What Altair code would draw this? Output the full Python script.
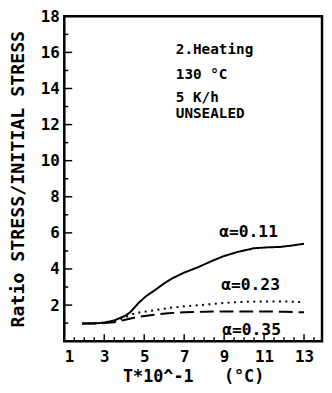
import altair as alt
import pandas as pd

# ---- data ----
series_names = ["α=0.11", "α=0.23", "α=0.35"]

x_a011 = [1.9, 2.5, 3.0, 3.5, 4.0, 4.3, 4.7, 5.1, 5.5, 6.0, 6.4, 7.0, 7.7, 8.4, 9.0, 9.7, 10.5, 11.2, 11.8, 12.4, 13.0]
y_a011 = [0.98, 0.98, 1.03, 1.15, 1.38, 1.6, 2.1, 2.5, 2.8, 3.2, 3.48, 3.8, 4.1, 4.45, 4.72, 4.95, 5.15, 5.2, 5.22, 5.3, 5.4]

x_a023 = [1.9, 3.0, 3.5, 4.0, 4.4, 4.8, 5.5, 6.3, 7.0, 7.7, 8.5, 9.0, 10.0, 11.0, 12.0, 12.8]
y_a023 = [0.98, 1.03, 1.1, 1.3, 1.5, 1.6, 1.71, 1.85, 1.93, 1.99, 2.07, 2.12, 2.18, 2.2, 2.2, 2.17]

x_a035 = [1.9, 3.0, 3.5, 4.0, 4.7, 5.5, 6.2, 7.0, 8.0, 9.0, 10.0, 11.0, 12.0, 13.0]
y_a035 = [0.98, 1.0, 1.05, 1.17, 1.35, 1.47, 1.55, 1.6, 1.63, 1.65, 1.65, 1.65, 1.63, 1.6]

x_tick_labels = [1, 3, 5, 7, 9, 11, 13]
x_minor_ticks = [1.5, 2, 2.5, 3.5, 4, 4.5, 5.5, 6, 6.5, 7.5, 8, 8.5, 9.5, 10, 10.5, 11.5, 12, 12.5, 13.5]
x_major_ticks = [3, 5, 7, 9, 11, 13]
y_tick_labels = [2, 4, 6, 8, 10, 12, 14, 16, 18]
y_minor_ticks = [1, 3, 5, 7, 9, 11, 13, 15, 17]

info_text = ["2.Heating", "130 °C", "5 K/h", "UNSEALED"]
info_x = [6.58, 6.58, 6.58, 6.58]
info_y = [16.14, 14.77, 13.47, 12.58]

alpha_x = [8.75, 8.85, 8.9]
alpha_y = [6.02, 3.12, 0.6]

# ---- tables ----
rows = []
for name, xs, ys in zip(series_names, [x_a011, x_a023, x_a035], [y_a011, y_a023, y_a035]):
    for xv, yv in zip(xs, ys):
        rows.append({"series": name, "T": xv, "R": yv})
df_lines = pd.DataFrame(rows)

df_info = pd.DataFrame({"label": info_text, "T": info_x, "R": info_y})
df_alpha = pd.DataFrame({"label": series_names, "T": alpha_x, "R": alpha_y})
df_xminor = pd.DataFrame({"T": x_minor_ticks})
df_xmajor = pd.DataFrame({"T": x_major_ticks})
df_yminor = pd.DataFrame({"R": y_minor_ticks})
df_ymajor = pd.DataFrame({"R": y_tick_labels})

FONT = "DejaVu Sans Mono"
W, H = 261, 329

x_scale = alt.Scale(domain=[1, 13.9], nice=False, zero=False)
y_scale = alt.Scale(domain=[0, 18], nice=False, zero=False)

x_axis = alt.Axis(
    values=x_tick_labels, format="d", tickSize=0, domain=False, grid=False,
    labelFont=FONT, labelFontWeight="bold", labelFontSize=16, labelColor="black",
    labelPadding=8,
    title="T*10^-1\u00a0\u00a0\u00a0(°C)", titleFont=FONT, titleFontWeight="bold",
    titleFontSize=17, titleColor="black", titleY=41, titleBaseline="alphabetic",
)
y_axis = alt.Axis(
    values=y_tick_labels, format="d", tickSize=0, domain=False, grid=False,
    labelFont=FONT, labelFontWeight="bold", labelFontSize=16, labelColor="black",
    labelPadding=5,
    title="Ratio STRESS/INITIAL STRESS", titleFont=FONT, titleFontWeight="bold",
    titleFontSize=18.5, titleColor="black", titleX=-41, titleBaseline="alphabetic",
)

X = alt.X("T:Q", scale=x_scale, axis=x_axis)
Y = alt.Y("R:Q", scale=y_scale, axis=y_axis)

lines = alt.Chart(df_lines).mark_line(color="black", strokeWidth=2).encode(
    x=X, y=Y,
    strokeDash=alt.StrokeDash(
        "series:N",
        scale=alt.Scale(domain=series_names, range=[[1, 0], [2, 4.5], [14, 6]]),
        legend=None,
    ),
    strokeWidth=alt.StrokeWidth(
        "series:N",
        scale=alt.Scale(domain=series_names, range=[2, 2.6, 2.2]),
        legend=None,
    ),
    order="T:Q",
)

xminor = alt.Chart(df_xminor).mark_rule(color="black", strokeWidth=1.5).encode(
    x=X, y=alt.value(H), y2=alt.value(H - 4)
)
xmajor = alt.Chart(df_xmajor).mark_rule(color="black", strokeWidth=1.5).encode(
    x=X, y=alt.value(H), y2=alt.value(H - 7)
)
yminor = alt.Chart(df_yminor).mark_rule(color="black", strokeWidth=1.5).encode(
    y=Y, x=alt.value(0), x2=alt.value(4)
)
ymajor = alt.Chart(df_ymajor).mark_rule(color="black", strokeWidth=1.5).encode(
    y=Y, x=alt.value(0), x2=alt.value(8)
)

info = alt.Chart(df_info).mark_text(
    align="left", baseline="middle", font=FONT, fontWeight="bold", fontSize=14.5, color="black"
).encode(x=X, y=Y, text="label:N")

alpha = alt.Chart(df_alpha).mark_text(
    align="left", baseline="middle", font=FONT, fontWeight="bold", fontSize=16.5, color="black"
).encode(x=X, y=Y, text="label:N")

chart = alt.layer(xminor, xmajor, yminor, ymajor, lines, info, alpha).properties(
    width=W, height=H,
    autosize=alt.AutoSizeParams(type="none"),
    padding={"left": 57, "top": 6, "right": 2, "bottom": 44},
    background="white",
).configure_view(stroke="black", strokeWidth=2.5)

chart.save("out.html", embed_options={"renderer": "svg", "actions": False})
